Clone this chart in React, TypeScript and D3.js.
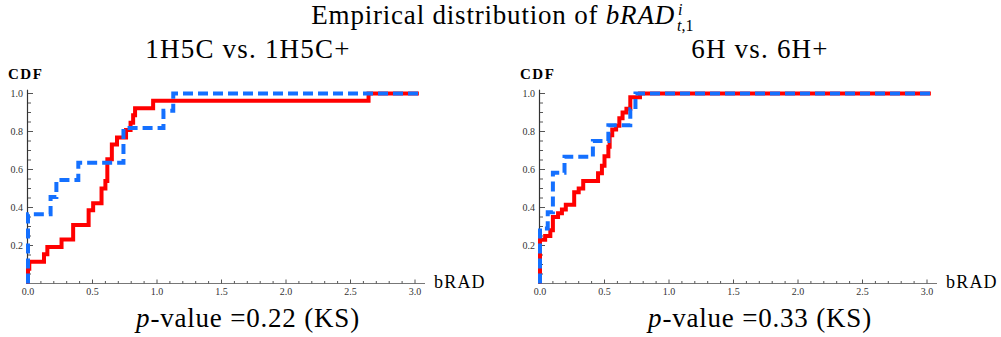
import React from 'react';
import * as d3 from 'd3';

// step points: jump position (bRAD) and CDF level after the jump
const leftRedX = [0.0, 0.01, 0.124, 0.15, 0.26, 0.35, 0.47, 0.505, 0.57, 0.6, 0.615, 0.65, 0.69, 0.76, 0.795, 0.815, 0.83, 0.97, 2.64];
const leftRedY = [0.077, 0.115, 0.154, 0.192, 0.231, 0.308, 0.385, 0.423, 0.5, 0.54, 0.654, 0.731, 0.769, 0.808, 0.846, 0.885, 0.923, 0.962, 1.0];
const leftBlueX = [0.0, 0.175, 0.22, 0.39, 0.74, 1.05, 1.126];
const leftBlueY = [0.364, 0.455, 0.545, 0.636, 0.818, 0.909, 1.0];

const rightRedX = [0.0, 0.04, 0.08, 0.1, 0.14, 0.17, 0.2, 0.265, 0.3, 0.335, 0.45, 0.48, 0.5, 0.53, 0.54, 0.56, 0.59, 0.615, 0.64, 0.67, 0.7, 0.775];
const rightRedY = [0.23, 0.25, 0.28, 0.35, 0.37, 0.39, 0.415, 0.48, 0.5, 0.54, 0.58, 0.62, 0.67, 0.72, 0.78, 0.81, 0.83, 0.87, 0.9, 0.92, 0.98, 1.0];
const rightBlueX = [0.0, 0.06, 0.1, 0.19, 0.41, 0.53, 0.7, 0.74];
const rightBlueY = [0.29, 0.375, 0.583, 0.667, 0.75, 0.833, 0.917, 1.0];

const xTicks = [0, 0.5, 1, 1.5, 2, 2.5, 3];
const yTicks = [0.2, 0.4, 0.6, 0.8, 1.0];
const panelTitles = ['1H5C vs. 1H5C+', '6H vs. 6H+'];
const pValues = ['0.22', '0.33'];

const RED = '#ff0000';
const BLUE = '#1470ff';
const SERIF = { fontFamily: "'Liberation Serif', 'DejaVu Serif', serif" };
const X_END = 3.03;

function steps(xs: number[], ys: number[]): [number, number][] {
  const pts: [number, number][] = [[xs[0], 0]];
  xs.forEach((x, i) => pts.push([x, ys[i]]));
  pts.push([X_END, ys[ys.length - 1]]);
  return pts;
}

function Panel({ left, title, p, red, blue }: {
  left: number; title: string; p: string;
  red: [number[], number[]]; blue: [number[], number[]];
}) {
  const x = d3.scaleLinear().domain([0, 3]).range([left, left + 387]);
  const y = d3.scaleLinear().domain([0, 1]).range([283.5, 93.5]);
  const line = d3.line<[number, number]>()
    .x(d => x(d[0]))
    .y(d => y(d[1]))
    .curve(d3.curveStepAfter);
  const minorX = d3.range(0, 3.01, 0.1).filter(v => Math.abs(v * 2 - Math.round(v * 2)) > 1e-6);
  const minorY = d3.range(0.05, 1.04, 0.05).filter(v => Math.abs(v * 5 - Math.round(v * 5)) > 1e-6);
  const cx = left + 220;

  return (
    <g>
      <text x={cx} y={58} textAnchor="middle" style={SERIF} fontSize={27} letterSpacing={1.2}>{title}</text>
      {/* axes */}
      <line x1={x(0) - 2} x2={x(0) + 397} y1={y(0)} y2={y(0)} stroke="#777" strokeWidth={1.2} />
      <line x1={x(0) - 0.5} x2={x(0) - 0.5} y1={y(0)} y2={y(1.02)} stroke="#333" strokeWidth={1.2} />
      {xTicks.map(t => (
        <g key={'xt' + t}>
          <line x1={x(t)} x2={x(t)} y1={y(0)} y2={y(0) - 4} stroke="#555" />
          <text x={x(t)} y={295} textAnchor="middle" style={SERIF} fontSize={10} fill="#333">{t.toFixed(1)}</text>
        </g>
      ))}
      {minorX.map(t => (
        <line key={'xm' + t} x1={x(t)} x2={x(t)} y1={y(0)} y2={y(0) - 2.5} stroke="#555" />
      ))}
      {yTicks.map(t => (
        <g key={'yt' + t}>
          <line x1={x(0)} x2={x(0) + 5} y1={y(t)} y2={y(t)} stroke="#555" />
          <text x={x(0) - 5} y={y(t) + 3.5} textAnchor="end" style={SERIF} fontSize={10} fill="#333">{t.toFixed(1)}</text>
        </g>
      ))}
      {minorY.map(t => (
        <line key={'ym' + t} x1={x(0)} x2={x(0) + 3} y1={y(t)} y2={y(t)} stroke="#555" />
      ))}
      <text x={left - 20} y={79} style={SERIF} fontSize={15} fontWeight="bold" letterSpacing={1.5}>CDF</text>
      <text x={left + 406} y={288} style={SERIF} fontSize={18} letterSpacing={1.2}>bRAD</text>
      {/* curves */}
      <path d={line(steps(red[0], red[1])) || ''} fill="none" stroke={RED} strokeWidth={4} />
      <path d={line(steps(blue[0], blue[1])) || ''} fill="none" stroke={BLUE} strokeWidth={4} strokeDasharray="10,5" />
      <text x={cx} y={327} textAnchor="middle" style={SERIF} fontSize={27} letterSpacing={0.8}>
        <tspan fontStyle="italic">p</tspan>-value =0.{p.slice(2)} (KS)
      </text>
    </g>
  );
}

export default function App() {
  return (
    <svg width={1001} height={337} style={{ position: 'absolute', left: 0, top: 0, background: '#fff' }}>
      <rect width={1001} height={337} fill="#fff" />
      <text x={675} y={24} textAnchor="end" style={SERIF} fontSize={27} letterSpacing={0.8}>
        Empirical distribution of <tspan fontStyle="italic">bRAD</tspan>
      </text>
      <text x={678} y={15} style={SERIF} fontSize={16} fontStyle="italic">i</text>
      <text x={677} y={31} style={SERIF} fontSize={16}><tspan fontStyle="italic">t</tspan>,1</text>
      <Panel left={28} title={panelTitles[0]} p={pValues[0]} red={[leftRedX, leftRedY]} blue={[leftBlueX, leftBlueY]} />
      <Panel left={540} title={panelTitles[1]} p={pValues[1]} red={[rightRedX, rightRedY]} blue={[rightBlueX, rightBlueY]} />
    </svg>
  );
}
